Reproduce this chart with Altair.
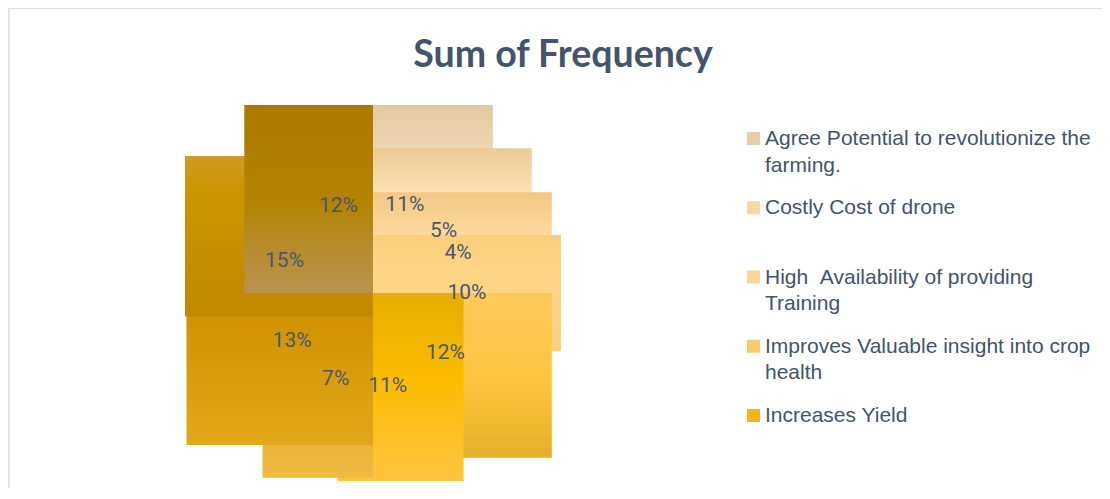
import textwrap
import numpy as np
import pandas as pd
import altair as alt

# ---------------- data ----------------
title_text = "Sum of Frequency"
percent = [11, 5, 4, 10, 12, 11, 7, 13, 15, 12]          # slices clockwise from 12 o'clock
legend_names = [
    "Agree Potential to revolutionize the farming.",
    "Costly Cost of drone",
    "High  Availability of providing Training",
    "Improves Valuable insight into crop health",
    "Increases Yield",
]
legend_colors = ["#e6cea8", "#f7d7a7", "#fdd594", "#fbcb6a", "#f0b51a"]
# gradient stops (top -> bottom) for each slice
slice_stops = [
    [(0, "#e2c9a1"), (0.25, "#eed7b3"), (1, "#fbe3c0")],
    [(0, "#ecca94"), (0.3, "#fde0b4"), (1, "#fde0b4")],
    [(0, "#f2c883"), (0.4, "#fed89c"), (1, "#fed89c")],
    [(0, "#fcce7c"), (0.3, "#fed587"), (1, "#fdd080")],
    [(0, "#fec95c"), (0.5, "#fdc541"), (0.75, "#f3bb33"), (1, "#e2b02a")],
    [(0, "#e5ae00"), (0.45, "#fbbc00"), (1, "#fec53f")],
    [(0, "#d49500"), (1, "#f0ba44")],
    [(0, "#cd8f00"), (0.15, "#d09200"), (1, "#e1a81b")],
    [(0, "#d09c24"), (0.2, "#cb9400"), (1, "#c08900")],
    [(0, "#ab7a00"), (0.5, "#b38300"), (0.75, "#b68b2a"), (1, "#b9934e")],
]

# ---------------- geometry from the values ----------------
frac = np.array(percent, dtype=float) / sum(percent)
ends = np.cumsum(frac) * 2 * np.pi
starts = ends - frac * 2 * np.pi
rows = []
for i, (a0, a1) in enumerate(zip(starts, ends)):
    xs = [0.0, np.sin(a0), np.sin(a1)]
    ys = [0.0, np.cos(a0), np.cos(a1)]
    for k in range(1, 5):
        q = k * np.pi / 2
        if a0 < q < a1 - 1e-9:
            xs.append(np.sin(q))
            ys.append(np.cos(q))
    mid = (a0 + a1) / 2
    rows.append(dict(idx=i, x0=min(xs), x1=max(xs), y0=min(ys), y1=max(ys),
                     lx=0.5 * np.sin(mid), ly=0.5 * np.cos(mid),
                     label=f"{percent[i]}%"))
pie = pd.DataFrame(rows)

leg = pd.DataFrame({
    "li": list(range(len(legend_names))),
    "name": legend_names,
    "txt": ["\n".join(textwrap.wrap(n, 36)).replace("  ", " \u00a0") for n in legend_names],
})

W, H = 1094, 480
xsc = alt.Scale(domain=[-1, 1], range=[177, 553], nice=False, zero=False)
ysc = alt.Scale(domain=[-1, 1], range=[473, 97], nice=False, zero=False)

layers = []
for i, stops in enumerate(slice_stops):
    grad = alt.LinearGradient(
        gradient="linear", x1=0, x2=0, y1=0, y2=1,
        stops=[alt.GradientStop(offset=o, color=c) for o, c in stops],
    )
    layers.append(
        alt.Chart(pie).transform_filter(alt.datum.idx == i)
        .mark_rect(fill=grad, strokeWidth=0)
        .encode(x=alt.X("x0:Q", scale=xsc, axis=None), x2="x1:Q",
                y=alt.Y("y0:Q", scale=ysc, axis=None), y2="y1:Q")
    )

labels = alt.Chart(pie).mark_text(
    font="Roboto", fontSize=21, color="#4d5768", align="center", baseline="middle"
).encode(x=alt.X("lx:Q", scale=xsc, axis=None),
         y=alt.Y("ly:Q", scale=ysc, axis=None), text="label:N")

title = alt.Chart(pd.DataFrame({"t": [title_text]})).mark_text(
    font="Lato", fontSize=37.5, fontWeight="bold", color="#44546a", align="center", baseline="alphabetic"
).encode(x=alt.value(555), y=alt.value(59), text="t:N")

lysc = alt.Scale(domain=[0, 4], range=[137, 414], nice=False, zero=False)
leg_sw = alt.Chart(leg).mark_square(size=169, opacity=1, yOffset=-6.5).encode(
    x=alt.value(745.5),
    y=alt.Y("li:Q", scale=lysc, axis=None),
    color=alt.Color("name:N", scale=alt.Scale(domain=legend_names, range=legend_colors), legend=None),
)
leg_tx = alt.Chart(leg).mark_text(
    font="Liberation Sans, Arial, sans-serif", fontSize=21, color="#44546a",
    align="left", baseline="alphabetic", lineBreak="\n", lineHeight=26.5
).encode(x=alt.value(757), y=alt.Y("li:Q", scale=lysc, axis=None), text="txt:N")

frame_top = alt.Chart(pd.DataFrame({"a": [0]})).mark_rule(color="#dfe3e8", strokeWidth=2).encode(
    x=alt.value(0), x2=alt.value(W), y=alt.value(0))
frame_left = alt.Chart(pd.DataFrame({"a": [0]})).mark_rule(color="#dfe3e8", strokeWidth=2).encode(
    x=alt.value(1), y=alt.value(0), y2=alt.value(H))

chart = alt.layer(*layers, labels, title, leg_sw, leg_tx, frame_top, frame_left).resolve_scale(
    x="independent", y="independent", color="independent"
).properties(
    width=W, height=H, padding=0, autosize=alt.AutoSizeParams(type="none"),
    background="white",
).configure_view(stroke=None)

chart.save("out.html", embed_options={"renderer": "svg", "actions": False})
